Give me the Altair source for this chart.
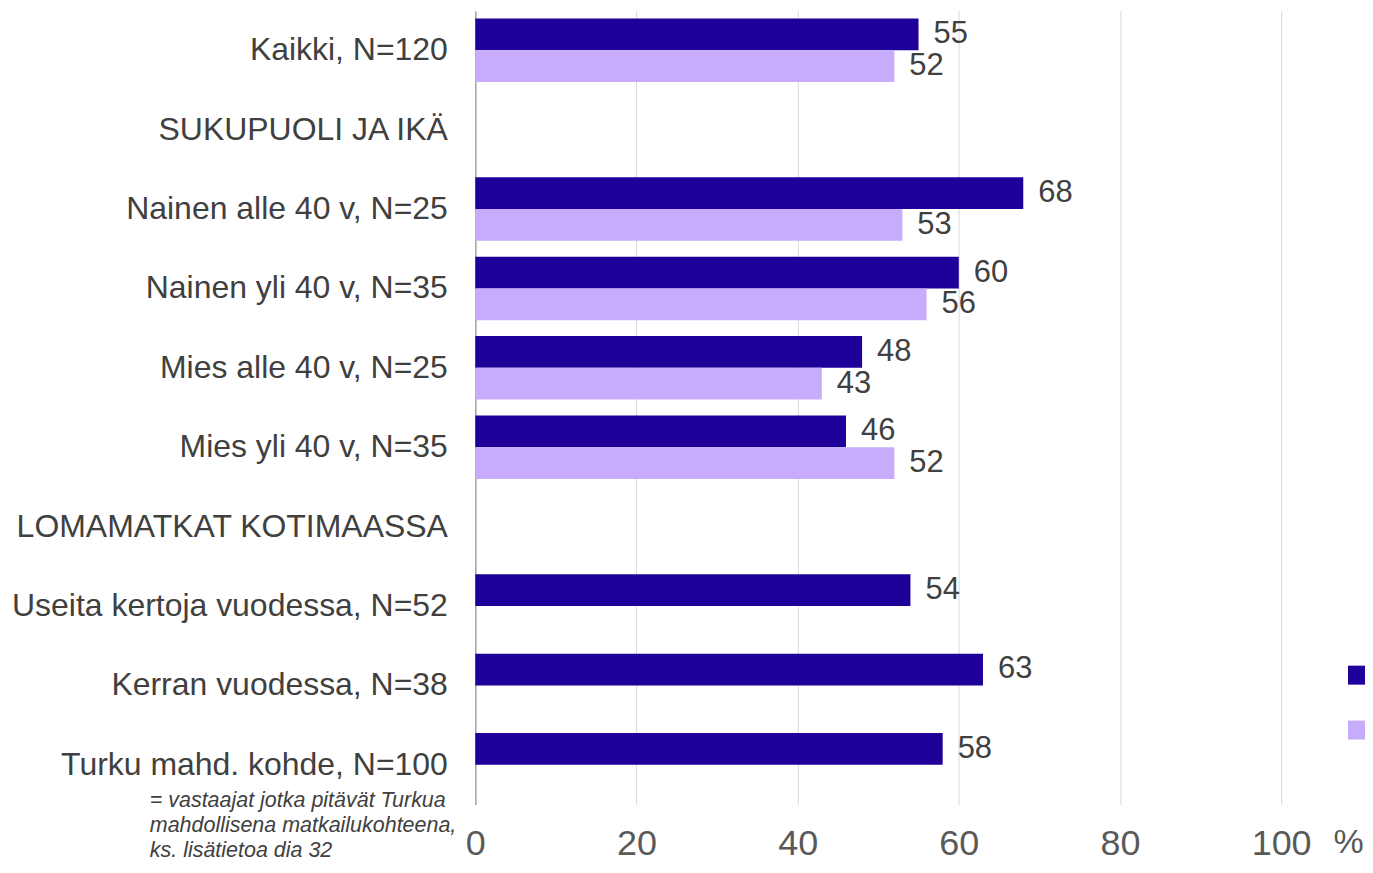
import altair as alt
import pandas as pd

categories = [
    "Kaikki, N=120",
    "SUKUPUOLI JA IKÄ",
    "Nainen alle 40 v, N=25",
    "Nainen yli 40 v, N=35",
    "Mies alle 40 v, N=25",
    "Mies yli 40 v, N=35",
    "LOMAMATKAT KOTIMAASSA",
    "Useita kertoja vuodessa, N=52",
    "Kerran vuodessa, N=38",
    "Turku mahd. kohde, N=100",
]
series_names = ["Sarja 1", "Sarja 2"]
series1 = [55, None, 68, 60, 48, 46, None, 54, 63, 58]
series2 = [52, None, 53, 56, 43, 52, None, None, None, None]
colors = ["#1F0098", "#C8ACFC"]
x_ticks = [0, 20, 40, 60, 80, 100]
footnote = "= vastaajat jotka pitävät Turkua\nmahdollisena matkailukohteena,\nks. lisätietoa dia 32"

rows = []
for name, vals in zip(series_names, [series1, series2]):
    for c, v in zip(categories, vals):
        if v is not None:
            rows.append({"cat": c, "series": name, "value": v})
df = pd.DataFrame(rows)

W, H = 807, 795

y_enc = alt.Y(
    "cat:N",
    sort=categories,
    scale=alt.Scale(domain=categories, paddingInner=0.2, paddingOuter=0.1),
    axis=alt.Axis(
        title=None, ticks=False, labelPadding=28, labelFontSize=32,
        labelColor="#404040", domainColor="#A6A6A6", domainWidth=1.5,
        grid=False, labelLimit=0,
    ),
)
yoff = alt.YOffset("series:N", scale=alt.Scale(domain=series_names, paddingInner=0, paddingOuter=0))

x_enc = alt.X(
    "value:Q",
    scale=alt.Scale(domain=[0, 100], nice=False),
    axis=alt.Axis(
        values=x_ticks, title="%", titleX=859, titleY=48, titleAlign="left",
        titleBaseline="alphabetic", titleFontSize=34, titleFontWeight="normal",
        titleColor="#595959", labelFontSize=36, labelColor="#595959",
        labelPadding=22, labelFlush=False, ticks=False, domain=False, grid=True,
        gridColor="#D9D9D9", gridWidth=1,
    ),
)

bars = alt.Chart(df).mark_bar().encode(
    x=x_enc,
    y=y_enc,
    yOffset=yoff,
    color=alt.Color(
        "series:N",
        scale=alt.Scale(domain=series_names, range=colors),
        legend=alt.Legend(
            orient="none", legendX=874, legendY=656, title=None,
            labelExpr="''", symbolType="square", symbolSize=361,
            symbolStrokeWidth=0, rowPadding=36, labelFontSize=1,
            symbolOpacity=1, padding=0,
        ),
    ),
)

labels = alt.Chart(df).mark_text(
    align="left", baseline="middle", dx=15, fontSize=31, color="#404040"
).encode(
    x="value:Q",
    y=alt.Y("cat:N", sort=categories),
    yOffset=alt.YOffset("series:N"),
    text=alt.Text("value:Q"),
)

note = alt.Chart(pd.DataFrame({"t": [footnote]})).mark_text(
    align="left", baseline="alphabetic", fontSize=21.5, fontStyle="italic",
    color="#404040", lineBreak="\n", lineHeight=25,
).encode(
    x=alt.value(-326),
    y=alt.value(798),
    text="t:N",
)

chart = alt.layer(bars, labels, note).properties(
    width=W, height=H,
    autosize=alt.AutoSizeParams(type="none"),
    padding={"left": 468, "top": 2, "right": 84, "bottom": 58},
).configure(
    font="Liberation Sans",
).configure_view(stroke=None)

chart.save("out.html", embed_options={"renderer": "svg", "actions": False})
